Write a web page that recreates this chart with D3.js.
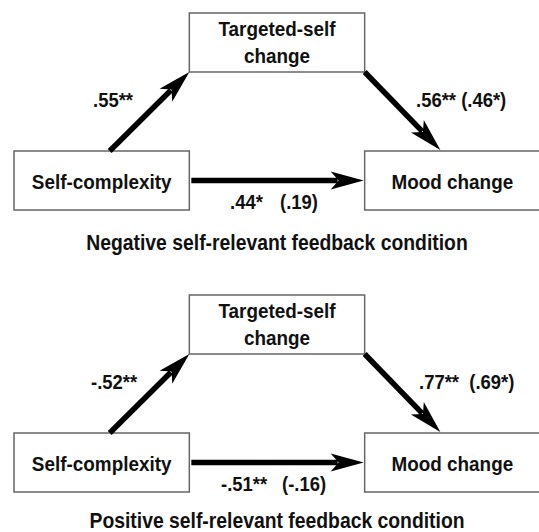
<!DOCTYPE html>
<html>
<head>
<meta charset="utf-8">
<script src="https://cdn.jsdelivr.net/npm/d3@7"></script>
<style>
  body { margin: 0; background: #fff; }
  text { font-family: "Liberation Sans", Arial, sans-serif; font-weight: bold; fill: #111; }
</style>
</head>
<body>
<div id="container"></div>
<script>
// path diagram, two conditions
const nodeNames = ["Self-complexity", "Targeted-self change", "Mood change"]
const conditions = ["Negative self-relevant feedback condition", "Positive self-relevant feedback condition"]
const pathA = [".55**", "-.52**"]           // self-complexity -> targeted-self change
const pathB = [".56** (.46*)", ".77**  (.69*)"] // targeted-self change -> mood change
const pathC = [".44*", "-.51**"]            // direct path
const pathCp = ["(.19)", "(-.16)"]          // direct path controlling for mediator

const width = 539, height = 532
const panelH = 282
const squeeze = 0.9  // narrow-ish type

const svg = d3.select("#container").append("svg")
  .attr("width", width)
  .attr("height", height)

// columns for the three boxes
const xBand = d3.scaleBand().domain([0, 1, 2]).range([14, 540]).padding(0)
// rows: mediator on top, predictor/outcome below
const yRow = d3.scaleOrdinal().domain(["top", "bottom"]).range([13, 151])
const boxH = 59

const nodes = [
  { name: nodeNames[0], col: 0, row: "bottom" },
  { name: nodeNames[1], col: 1, row: "top" },
  { name: nodeNames[2], col: 2, row: "bottom" }
]

function label(g, x, y, txt, size, anchor) {
  return g.append("text")
    .attr("transform", `translate(${x},${y}) scale(${squeeze},1)`)
    .attr("text-anchor", anchor || "start")
    .attr("font-size", size)
    .attr("xml:space", "preserve")
    .text(txt)
}

function arrow(g, x1, y1, x2, y2) {
  const ang = Math.atan2(y2 - y1, x2 - x1)
  const len = 33, half = 9, notch = 25
  const cos = Math.cos(ang), sin = Math.sin(ang)
  g.append("line")
    .attr("x1", x1).attr("y1", y1)
    .attr("x2", x2 - cos * (notch + 1)).attr("y2", y2 - sin * (notch + 1))
    .attr("stroke", "#000")
    .attr("stroke-width", 5.5)
  const pts = [
    [x2, y2],
    [x2 - cos * len - sin * half, y2 - sin * len + cos * half],
    [x2 - cos * notch, y2 - sin * notch],
    [x2 - cos * len + sin * half, y2 - sin * len - cos * half]
  ]
  g.append("path")
    .attr("d", d3.line().curve(d3.curveLinearClosed)(pts))
    .attr("fill", "#000")
}

conditions.forEach((cond, i) => {
  const g = svg.append("g")
    .attr("transform", `translate(0, ${i * panelH})`)

  // boxes
  g.selectAll("rect")
    .data(nodes)
    .join("rect")
    .attr("x", d => xBand(d.col))
    .attr("y", d => yRow(d.row))
    .attr("width", xBand.bandwidth())
    .attr("height", boxH)
    .attr("fill", "#fff")
    .attr("stroke", "#666")
    .attr("stroke-width", 1.5)

  // box labels
  const left = nodes[0], mid = nodes[1], right = nodes[2]
  const cx = d => xBand(d.col) + xBand.bandwidth() / 2
  const cy = d => yRow(d.row) + boxH / 2

  label(g, cx(left), cy(left) + 8, left.name, 21, "middle")
  label(g, cx(right), cy(right) + 8, right.name, 21, "middle")
  const words = mid.name.split(" ")
  label(g, cx(mid), yRow(mid.row) + 23, words[0], 21, "middle")
  label(g, cx(mid), yRow(mid.row) + 50, words[1], 21, "middle")

  // paths
  const midX0 = xBand(mid.col), midX1 = xBand(mid.col) + xBand.bandwidth()
  const midY1 = yRow(mid.row) + boxH
  arrow(g, cx(left) + 8, yRow(left.row), midX0, midY1)
  arrow(g, midX1, midY1, cx(right) - 12, yRow(right.row) - 1)
  arrow(g, xBand(left.col) + xBand.bandwidth() + 2, cy(left), xBand(right.col) - 1, cy(left))

  // coefficients
  label(g, i === 0 ? 93 : 91, 107, pathA[i], 20.5)
  label(g, i === 0 ? 416 : 419, 107, pathB[i], 20.5)
  label(g, i === 0 ? 230 : 221, 209, pathC[i], 20.5)
  label(g, i === 0 ? 280 : 282, 209, pathCp[i], 20.5)

  // condition title
  label(g, 277, 250 - i * 4, cond, 21.5, "middle")
})
</script>
</body>
</html>
